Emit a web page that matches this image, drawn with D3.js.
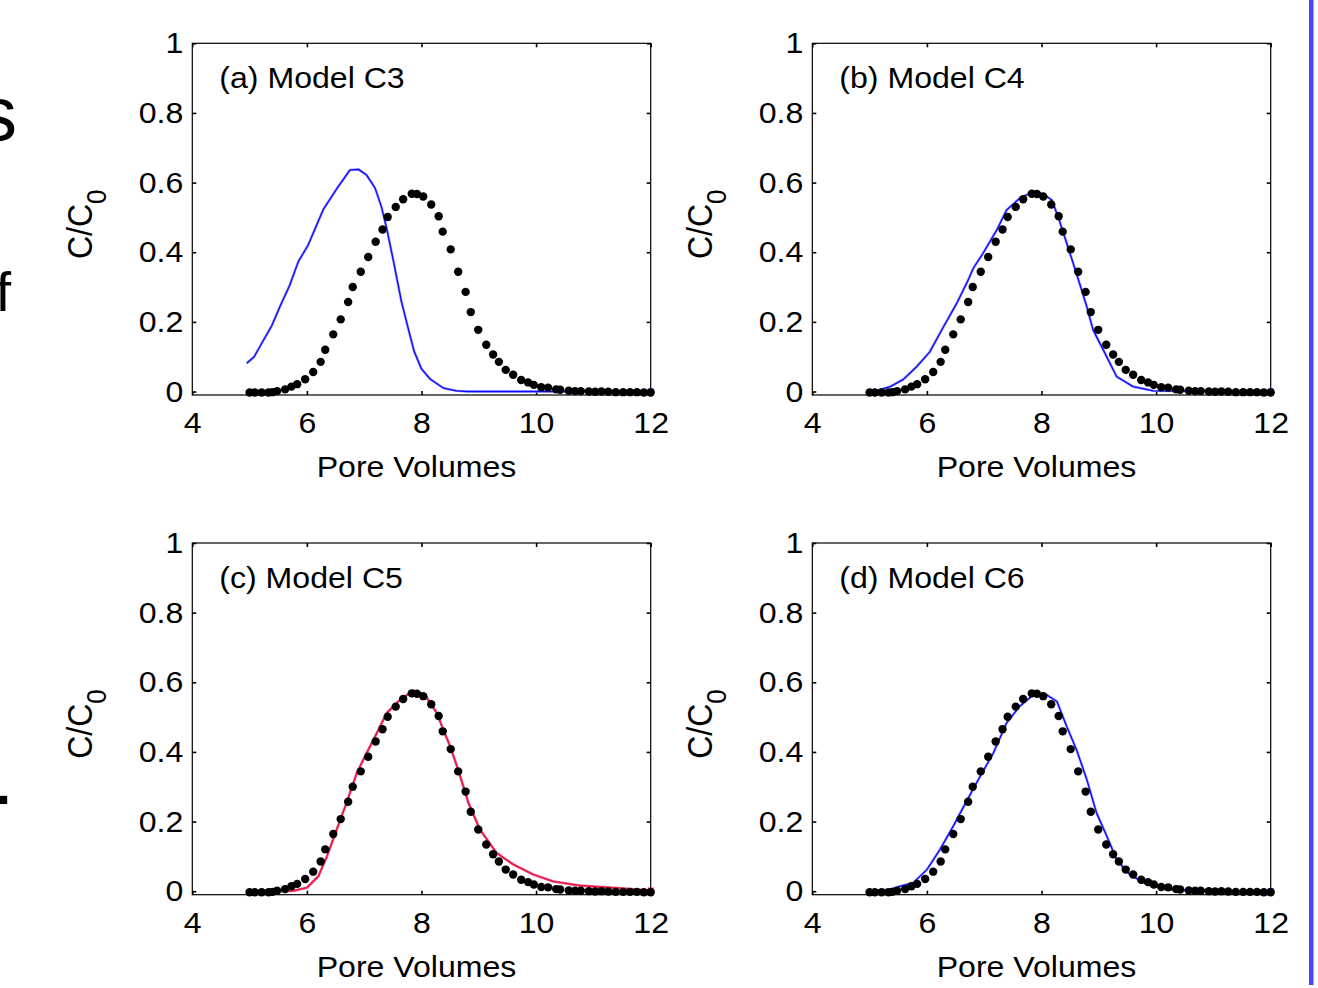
<!DOCTYPE html>
<html>
<head>
<meta charset="utf-8">
<script src="https://cdn.jsdelivr.net/npm/d3@7"></script>
<style>
  html, body { margin: 0; padding: 0; background: #fff; }
  svg { display: block; }
  text { font-family: "Liberation Sans", Arial, sans-serif; fill: #000; }
</style>
</head>
<body>
<svg id="chart" width="1318" height="988"></svg>
<script>
// ---------- data ----------
const pvObs = [5.0, 5.09, 5.21, 5.33, 5.40, 5.48, 5.62, 5.73, 5.83, 5.97,
  6.11, 6.24, 6.32, 6.46, 6.59, 6.72, 6.80, 6.94, 7.07, 7.20,
  7.32, 7.41, 7.55, 7.68, 7.83, 7.92, 8.03, 8.17, 8.30, 8.37,
  8.51, 8.64, 8.77, 8.86, 8.99, 9.13, 9.25, 9.35, 9.47, 9.60,
  9.74, 9.86, 9.96, 10.09, 10.21, 10.35, 10.42, 10.57, 10.68, 10.78,
  10.92, 11.03, 11.14, 11.26, 11.39, 11.52, 11.64, 11.76, 11.88, 12.0];
const cObs = [0, 0, 0, 0, 0.001, 0.004, 0.009, 0.017, 0.024, 0.038,
  0.059, 0.088, 0.123, 0.167, 0.210, 0.260, 0.303, 0.347, 0.389, 0.433,
  0.468, 0.504, 0.533, 0.555, 0.571, 0.570, 0.563, 0.540, 0.506, 0.462,
  0.411, 0.347, 0.289, 0.231, 0.180, 0.137, 0.109, 0.088, 0.065, 0.051,
  0.036, 0.029, 0.022, 0.015, 0.014, 0.009, 0.008, 0.005, 0.004, 0.004,
  0.003, 0.002, 0.003, 0.002, 0.001, 0.001, 0.001, 0.001, 0, 0];

const c3x = [4.95, 5.08, 5.21, 5.39, 5.53, 5.70, 5.85, 6.02, 6.29, 6.52, 6.75, 6.90, 7.04, 7.19, 7.30, 7.39, 7.51, 7.65, 7.77, 7.87, 8.00, 8.15, 8.38, 8.61, 8.80, 9.5, 10.5, 11.5, 12.0];
const c3y = [0.081, 0.100, 0.138, 0.190, 0.244, 0.305, 0.373, 0.420, 0.524, 0.582, 0.636, 0.638, 0.622, 0.584, 0.531, 0.470, 0.375, 0.258, 0.180, 0.116, 0.065, 0.036, 0.010, 0.002, 0, 0, 0, 0, 0];

const c4x = [4.95, 5.15, 5.36, 5.59, 5.82, 6.05, 6.29, 6.52, 6.72, 6.81, 6.98, 7.22, 7.39, 7.62, 7.86, 8.03, 8.18, 8.29, 8.44, 8.61, 8.79, 8.90, 9.08, 9.31, 9.60, 9.95, 11.0, 12.0];
const c4y = [0, 0.004, 0.014, 0.035, 0.071, 0.114, 0.186, 0.253, 0.320, 0.354, 0.397, 0.464, 0.521, 0.555, 0.574, 0.567, 0.550, 0.502, 0.426, 0.339, 0.244, 0.177, 0.119, 0.043, 0.014, 0.002, 0, 0];

const c5x = [4.95, 5.53, 5.76, 6.00, 6.20, 6.35, 6.52, 6.69, 6.87, 7.04, 7.22, 7.39, 7.62, 7.86, 8.06, 8.27, 8.38, 8.50, 8.64, 8.82, 9.02, 9.31, 9.60, 9.95, 10.30, 10.77, 11.35, 12.0];
const c5y = [0, 0, 0.001, 0.010, 0.043, 0.100, 0.177, 0.253, 0.339, 0.396, 0.454, 0.511, 0.549, 0.576, 0.564, 0.511, 0.464, 0.416, 0.349, 0.253, 0.177, 0.110, 0.077, 0.048, 0.028, 0.016, 0.010, 0.002];

const c6x = [4.95, 5.36, 5.53, 5.76, 6.00, 6.23, 6.46, 6.69, 6.93, 7.16, 7.39, 7.62, 7.86, 8.06, 8.27, 8.44, 8.61, 8.79, 8.96, 9.14, 9.31, 9.54, 9.84, 10.19, 10.77, 12.0];
const c6y = [0, 0.005, 0.014, 0.024, 0.062, 0.120, 0.187, 0.258, 0.330, 0.397, 0.483, 0.531, 0.564, 0.567, 0.545, 0.473, 0.407, 0.321, 0.225, 0.158, 0.091, 0.048, 0.019, 0.005, 0, 0];

const panelTitles = ["(a) Model C3", "(b) Model C4", "(c) Model C5", "(d) Model C6"];
const xTicks = [4, 6, 8, 10, 12];
const yTicks = [0, 0.2, 0.4, 0.6, 0.8, 1];
const yTickLabels = ["0", "0.2", "0.4", "0.6", "0.8", "1"];
const xLabel = "Pore Volumes";
const modelX = [c3x, c4x, c5x, c6x];
const modelY = [c3y, c4y, c5y, c6y];
const modelColor = ["#0a0aff", "#0a0aff", "#ff1020", "#0a0aff"];
const modelHalo = ["#9a9aff", "#9a9aff", "#d060b0", "#9a9aff"];
const sideText = ["s", "f", "."];

// ---------- layout ----------
const svg = d3.select("#chart");
const W = 458.4, H = 351.7;
const lefts = [192.3, 812.3], tops = [43.3, 543.0];
const FS = 30, SX = 1.07;

function stretchAxisText(g) {
  g.selectAll(".tick text").each(function () {
    const t = d3.select(this);
    const x = +t.attr("x") || 0, y = +t.attr("y") || 0;
    t.attr("x", 0).attr("y", 0).attr("transform", `translate(${x},${y}) scale(${SX},1)`);
  });
}

// slide text cut at left edge
svg.append("text").attr("x", 17).attr("y", 140).attr("text-anchor", "end").attr("font-size", 76).text(sideText[0]);
svg.append("text").attr("x", 11).attr("y", 311).attr("text-anchor", "end").attr("font-size", 56).text(sideText[1]);
svg.append("text").attr("x", 14).attr("y", 804).attr("text-anchor", "end").attr("font-size", 76).text(sideText[2]);

// right blue bar
svg.append("rect").attr("x", 1309).attr("y", 0).attr("width", 4.5).attr("height", 985).attr("fill", "#4646ff");

for (let i = 0; i < 4; i++) {
  const L = lefts[i % 2], T = tops[Math.floor(i / 2)];
  const g = svg.append("g").attr("transform", `translate(${L},${T})`);
  const x = d3.scaleLinear().domain([4, 12]).range([0, W]);
  const y = d3.scaleLinear().domain([-0.01, 1]).range([H, 0]);

  // frame
  g.append("rect").attr("width", W).attr("height", H).attr("fill", "none").attr("stroke", "#000").attr("stroke-width", 1.2);

  // axes (ticks inward, mirrored)
  const ax = g.append("g").attr("transform", `translate(0,${H})`)
    .call(d3.axisBottom(x).tickValues(xTicks).tickSize(-4).tickPadding(17).tickFormat(d3.format("d")));
  const axTop = g.append("g").call(d3.axisTop(x).tickValues(xTicks).tickSize(-4).tickFormat(""));
  const ay = g.append("g")
    .call(d3.axisLeft(y).tickValues(yTicks).tickSize(-4).tickPadding(9).tickFormat((d, k) => yTickLabels[k]));
  const ayR = g.append("g").attr("transform", `translate(${W},0)`)
    .call(d3.axisRight(y).tickValues(yTicks).tickSize(-4).tickFormat(""));
  [ax, axTop, ay, ayR].forEach(a => {
    a.select(".domain").remove();
    a.selectAll(".tick line").attr("stroke", "#000").attr("stroke-width", 1.6);
    a.selectAll(".tick text").attr("font-size", FS).attr("fill", "#000");
  });
  stretchAxisText(ax); stretchAxisText(ay);

  // x label
  g.append("text").attr("transform", `translate(${W / 2 - 5},${H + 82}) scale(${SX},1)`)
    .attr("text-anchor", "middle").attr("font-size", FS).text(xLabel);

  // y label C/C0
  const yl = g.append("text").attr("transform", `translate(-100,${181}) rotate(-90) scale(1,${SX})`)
    .attr("text-anchor", "middle").attr("font-size", 32);
  yl.append("tspan").text("C/C");
  yl.append("tspan").attr("dy", 13).attr("font-size", 26).text("0");

  // title
  g.append("text").attr("transform", `translate(27,45) scale(${SX},1)`).attr("font-size", FS).text(panelTitles[i]);

  // model line
  const pts = modelX[i].map((v, k) => [v, modelY[i][k]]);
  const line = d3.line().x(d => x(d[0])).y(d => y(d[1]));
  g.append("path").datum(pts).attr("d", line).attr("fill", "none")
    .attr("stroke", modelHalo[i]).attr("stroke-width", 2.6).attr("stroke-linejoin", "round");
  g.append("path").datum(pts).attr("d", line).attr("fill", "none")
    .attr("stroke", modelColor[i]).attr("stroke-width", 1.3).attr("stroke-linejoin", "round");
  const last = pts[pts.length - 1];
  g.append("rect").attr("x", x(last[0]) - 3).attr("y", y(last[1]) - 3).attr("width", 6).attr("height", 6).attr("fill", modelColor[i]);

  // observed points
  g.selectAll("circle.obs").data(pvObs.map((v, k) => [v, cObs[k]])).enter().append("circle")
    .attr("class", "obs").attr("cx", d => x(d[0])).attr("cy", d => y(d[1]) + 1).attr("r", 4.2).attr("fill", "#000");
}
</script>
</body>
</html>
